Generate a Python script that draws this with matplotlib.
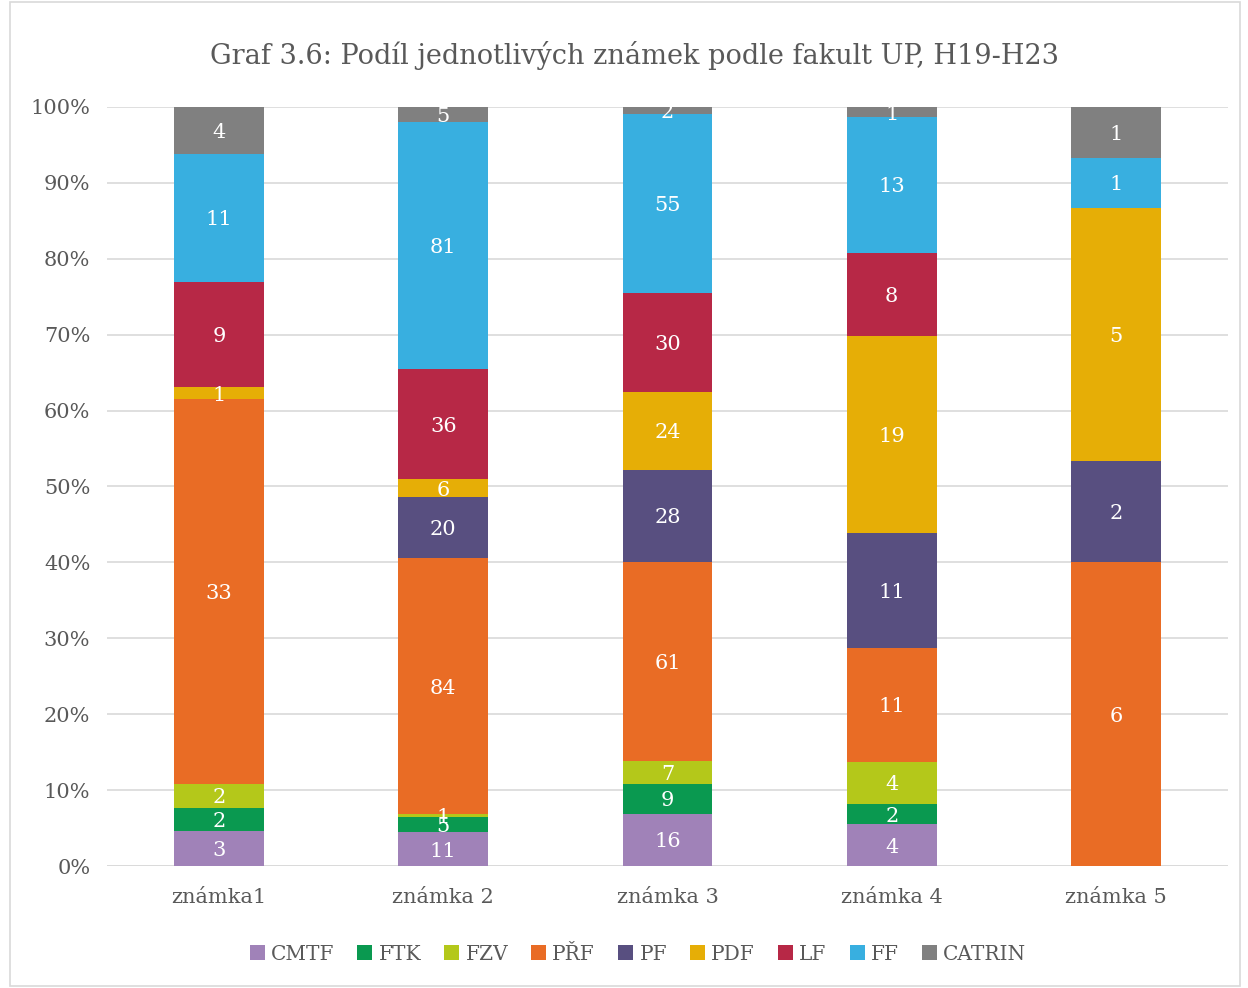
import matplotlib
matplotlib.use("Agg")
import matplotlib.pyplot as plt
from matplotlib.patches import Rectangle
import numpy as np

categories = ["známka1", "známka 2", "známka 3", "známka 4", "známka 5"]
faculties = ["CMTF", "FTK", "FZV", "PŘF", "PF", "PDF", "LF", "FF", "CATRIN"]
CMTF = [3, 11, 16, 4, 0]
FTK = [2, 5, 9, 2, 0]
FZV = [2, 1, 7, 4, 0]
PRF = [33, 84, 61, 11, 6]
PF = [0, 20, 28, 11, 2]
PDF = [1, 6, 24, 19, 5]
LF = [9, 36, 30, 8, 0]
FF = [11, 81, 55, 13, 1]
CATRIN = [4, 5, 2, 1, 1]
series = [CMTF, FTK, FZV, PRF, PF, PDF, LF, FF, CATRIN]
colors = ["#A082B8", "#0A9950", "#B4C81A", "#E96C25", "#584F80",
          "#E6AE06", "#B72846", "#38AFE0", "#808080"]

plt.rcParams['font.family'] = ['DejaVu Serif']
txt = "#595959"

fig = plt.figure(figsize=(12.48, 9.88), dpi=100)
ax = fig.add_axes([107/1248, 1-866/988, (1228-107)/1248, (866-107)/988])

data = np.array(series, dtype=float)
totals = data.sum(axis=0)
pct = data / totals * 100
x = np.arange(len(categories))
bottom = np.zeros(len(categories))
for name, vals, p, c in zip(faculties, series, pct, colors):
    ax.bar(x, p, bottom=bottom, width=0.4, color=c, label=name, zorder=3)
    for xi, v, pi, b in zip(x, vals, p, bottom):
        if v > 0:
            ax.text(xi, b + pi/2, str(v), ha='center', va='center_baseline', color='white',
                    fontsize=15, zorder=4)
    bottom += p

ax.set_xlim(-0.5, 4.5)
ax.set_ylim(0, 100)
ax.set_yticks(np.arange(0, 101, 10))
ax.set_yticklabels([f"{v}%" for v in range(0, 101, 10)], fontsize=15, color=txt)
ax.set_xticks(x)
ax.set_xticklabels(categories, fontsize=15, color=txt)
ax.tick_params(length=0, pad=12)
ax.tick_params(axis='x', pad=16)
ax.yaxis.grid(True, color="#D9D9D9", linewidth=1.2, zorder=0)
for s in ax.spines.values():
    s.set_visible(False)
ax.axhline(0, color="#D9D9D9", linewidth=1.2, zorder=2)

fig.text(634/1248, 1-55/988, "Graf 3.6: Podíl jednotlivých známek podle fakult UP, H19-H23",
         ha='center', va='center', fontsize=19.5, color=txt)

fig.legend(loc='center', bbox_to_anchor=(638/1248, 1-954/988), ncol=9, frameon=False,
           fontsize=14.5, handlelength=0.75, handleheight=0.75, handletextpad=0.3,
           columnspacing=1.15, labelcolor=txt)

fig.patches.append(Rectangle((10/1248, 0.002), (1240-10)/1248, 0.996, transform=fig.transFigure,
                             fill=False, edgecolor="#D9D9D9", linewidth=1.2))

fig.savefig("out.png", dpi=100, facecolor='white')
